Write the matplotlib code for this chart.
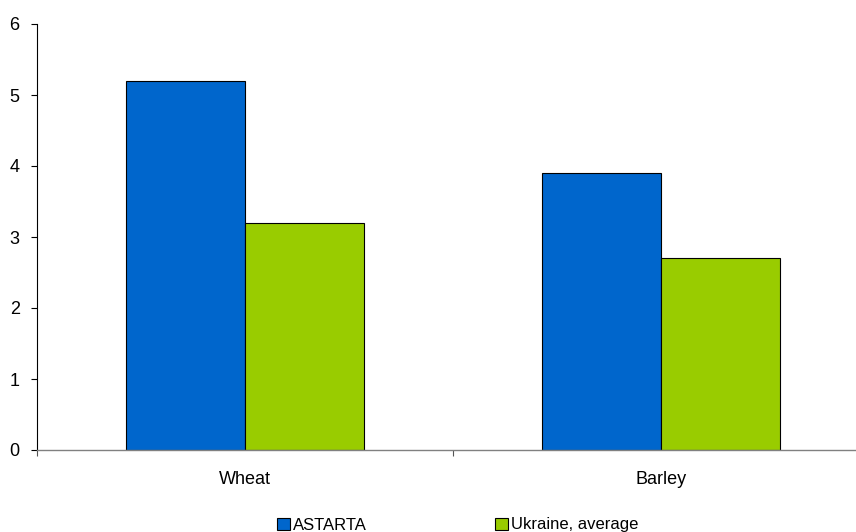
import matplotlib
matplotlib.use('Agg')
import matplotlib.pyplot as plt
from matplotlib.patches import Patch

# 数据
categories = ["Wheat", "Barley"]
astarta = [5.2, 3.9]
ukraine_avg = [3.2, 2.7]
series_names = ["ASTARTA", "Ukraine, average"]
colors = ["#0066CC", "#99CC00"]

plt.rcParams['font.family'] = ['Liberation Sans', 'DejaVu Sans']

fig = plt.figure(figsize=(8.56, 5.32), dpi=100)
ax = fig.add_axes([37 / 856, 82 / 532, 832 / 856, 426 / 532])

w = 0.286
x = list(range(len(categories)))
ax.bar([i - w / 2 for i in x], astarta, width=w, color=colors[0],
       edgecolor='black', linewidth=0.8, zorder=2)
ax.bar([i + w / 2 for i in x], ukraine_avg, width=w, color=colors[1],
       edgecolor='black', linewidth=0.8, zorder=2)

ax.set_xlim(-0.5, len(categories) - 0.5)
ax.set_ylim(0, 6)
ax.set_yticks(range(0, 7))
ax.tick_params(axis='y', length=4.5, width=0.8, pad=8, labelsize=13)

ax.set_xticks(x)
ax.set_xticklabels(categories)
ax.tick_params(axis='x', which='major', length=0, pad=15, labelsize=13)
ax.set_xticks([-0.5, 0.5, 1.5], minor=True)
ax.tick_params(axis='x', which='minor', length=4.5, width=0.8, color='#555555')

for s in ['top', 'right']:
    ax.spines[s].set_visible(False)
ax.spines['left'].set_color('black')
ax.spines['bottom'].set_color('#808080')
ax.spines['left'].set_linewidth(0.8)
ax.spines['bottom'].set_linewidth(1.0)

handles = [Patch(facecolor=c, edgecolor='black', linewidth=0.8) for c in colors]
fig.legend(handles, series_names, loc='center left', bbox_to_anchor=(262 / 856, 7 / 532),
           ncol=2, frameon=False, handlelength=0.75, handleheight=0.75,
           handletextpad=0.2, columnspacing=7.7, fontsize=12)

fig.savefig('out.png', dpi=100)
